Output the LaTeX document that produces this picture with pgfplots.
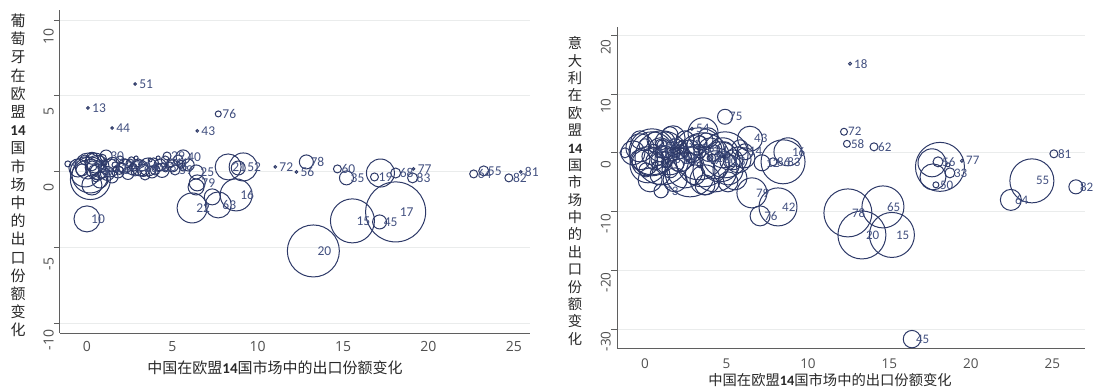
\documentclass[border=0pt]{standalone}
\usepackage{fontspec}
\usepackage{pgfplots}
\usepackage{pgfplotstable}
\pgfplotsset{compat=1.18}
\setmainfont{Open Sans}
\newfontfamily\cjk{Noto Sans CJK SC}
\newfontfamily\carl{Carlito}
\definecolor{navy}{RGB}{45,57,104}
\definecolor{labc}{RGB}{66,80,128}
\definecolor{axc}{RGB}{95,95,95}
\definecolor{tickc}{RGB}{80,80,80}
\definecolor{gridc}{RGB}{234,236,236}
\definecolor{titc}{RGB}{40,40,40}

\pgfplotstableread{
x y r lab
2.82 5.79 1.3 51
0.06 4.21 1.3 13
1.47 2.89 1.3 44
7.69 3.82 3 76
6.46 2.70 1.3 43
11.03 0.33 1.3 72
12.27 0.0 1.3 56
12.85 0.66 7 78
14.67 0.20 4 60
15.20 -0.39 7 35
16.84 -0.33 4 19
18.08 -0.07 5 68
19.13 0.20 1.3 77
19.07 -0.39 5 83
22.65 -0.13 4 64
23.24 0.07 5 55
24.71 -0.39 4 82
25.41 0.0 1.3 81
18.08 -2.63 30 17
17.14 -3.29 7 45
15.55 -3.22 22 15
13.26 -5.20 26 20
8.74 -1.51 16 16
6.16 -2.37 15 22
7.69 -2.17 13 63
6.46 -0.72 8 79
6.40 0.0 7 25
5.63 0.99 7 40
8.27 0.33 13 21
9.15 0.33 14 52
0.0 -3.09 13 10
-1.12 0.53 3 4
1.12 1.05 6 30
4.69 1.05 4 29
0.65 0 8 8
2.23 0.39 7 37
3.11 0.26 8 26
3.58 0.33 9 49
5.16 0.13 5 59
1.35 0.26 9 11
0.3 0.4 5 1
1.9 0.1 4 5
2.7 0.3 4 28
4.2 0.3 4 23
4.9 0.6 4 41
0.9 -0.1 5 9
}\leftlab

\pgfplotstableread{
x y r
17.19 -0.07 14
7.34 -1.64 8
8.86 0.26 7
6.39 -0.99 8
0.18 -0.20 18
0.06 0.39 13
0.47 0.59 10
-0.29 0.13 6
1.82 0 6
2.64 0.13 5
3.99 0.13 5
4.28 0.46 6
4.58 0.79 4
5.34 0.79 5
5.93 0.46 6
0.76 -0.53 8
1.47 -0.33 6
-0.12 0.79 5
2.52 0.59 4
3.40 -0.20 5
1.94 0.79 4
-0.53 0.26 9
0.29 -0.86 10
3.70 0.79 2
2.88 0.92 2
4.17 0.92 2
2.23 0.66 3
0.88 0.26 4
0.41 0.13 5
2.82 0 4
4.87 0.46 3
3.81 0 6
1.64 0.46 3
0.53 -0.39 4
5.63 0.26 3
4.0 0.3 3
3.2 0.5 3
1.0 0.6 3
0.2 -0.5 20
-0.1 0.0 15
0.6 0.3 12
1.5 0.5 7
2.0 0.3 5
2.4 -0.1 6
3.0 0.6 4
3.3 0.1 6
3.9 0.6 5
4.4 0.1 7
5.0 0.4 6
5.5 0.5 4
1.2 -0.1 7
0.3 0.9 6
0.9 0.9 4
2.6 0.8 3
4.6 0.2 3
1.7 0.2 3
}\leftunl

\pgfplotstableread{
x y r lab
12.58 15.16 1.5 18
12.21 3.58 3.5 72
12.39 1.53 3.5 58
14.05 1.02 4 62
25.09 -0.17 4 81
26.44 -5.79 7 82
23.74 -4.77 22 55
22.45 -8.01 10.5 64
17.85 -5.45 3 50
19.45 -1.36 1.5 77
17.98 -1.53 5 56
18.71 -3.41 5 33
12.45 -10.22 24 78
14.60 -9.20 21 65
13.31 -13.97 24 20
15.15 -13.97 22.5 15
16.38 -31.69 8.7 45
8.16 -9.20 19 42
7.06 -10.73 10 76
6.56 -6.81 15 79
8.47 -1.53 22 83
8.77 0.17 14 16
7.18 -1.70 8 12
7.85 -1.53 4 86
6.44 2.40 12.5 43
4.91 6.13 7.5 75
0.98 -6.47 7 73
2.88 4.09 1.5 54
5.09 -1.53 8 13
6.13 0.17 8 14
1.53 -1.19 15 39
3.56 -1.19 27 49
2.15 -1.19 12 26
0.43 -0.17 22 11
4.60 -1.53 20 40
3.99 0.51 12 24
0.5 0.8 4 1
1.2 -0.5 4 5
1.9 0.3 4 7
2.6 -0.6 4 9
3.2 0.8 4 23
4.1 -0.9 4 27
0.9 1.6 4 28
2.3 1.5 4 31
}\rightlab

\pgfplotstableread{
x y r
18.10 -2.39 24.5
17.61 -1.70 14
17.67 -4.09 13
18.59 -2.04 2
-1.23 0.0 5
-0.74 0 12
3.56 3.41 15
0.18 -2.04 18
-0.31 0.85 14
0.92 0.51 12
1.23 1.87 10
0.61 2.21 8
0.0 1.36 6
1.84 0.85 9
2.45 -2.90 18
2.76 0.51 10
3.19 1.36 10
3.87 2.56 10
4.29 -2.04 14
5.09 -2.90 15
5.40 -1.19 10
5.83 0.85 8
6.13 -0.85 10
1.72 2.56 12
0.92 -3.75 10
0.31 -4.60 12
3.07 -3.75 10
3.68 -4.60 15
5.52 -4.26 12
1.04 1.36 5
2.76 -0.85 5
3.37 0.17 6
4.29 0.51 5
2.15 0.17 7
4.91 0.51 8
0.74 -1.19 6
1.53 -2.90 8
-0.31 -1.19 10
0.06 -2.90 7
0.92 -0.34 3
1.41 0.51 3
1.84 -0.68 3
2.45 -0.34 3
2.88 -1.53 3
3.37 -2.04 3
3.99 -0.85 3
4.60 -0.34 3
0.61 -2.04 3
1.23 -2.04 3
0.43 0.17 23
1.04 -0.85 27
3.31 -0.17 26
4.91 -0.34 23
4.29 -2.90 22
2.76 -3.24 25
0 -1.70 13
4.79 0 15
5.71 -1.19 13
3.37 1.70 7
3.74 2.21 7
2.45 2.21 9
1.53 3.07 8
-0.31 2.21 9
1.84 -4.60 12
3.68 -5.45 10
5.09 -4.94 10
0.3 -0.6 8
1.0 0.2 6
1.7 -0.2 7
2.2 0.9 6
2.9 -0.3 8
0.6 -1.4 9
1.3 -1.6 5
2.0 -2.1 6
}\rightunl

\pgfplotsset{
  stata/.style={
    scale only axis, clip=false,
    axis lines=left, axis line style={-, draw=axc, line width=1pt},
    ymajorgrids, grid style={draw=gridc, line width=1pt},
    tick align=outside, major tick length=6pt,
    ytick style={draw=axc, line width=1pt},
    xtick style={draw=none},
    /pgf/number format/assume math mode=true,
    yticklabel style={rotate=90, anchor=south, inner sep=0pt, text=tickc},
    xticklabel style={anchor=north, inner sep=0pt, text=tickc},
  },
  bubl/.style={scatter, only marks, mark=o, line width=1pt,
    scatter/use mapped color={draw=navy},
    point meta=\thisrow{r},
    visualization depends on={\thisrow{r}\as\rad},
    scatter/@pre marker code/.append style={/tikz/mark size=\rad},
  },
  lbl/.style={only marks, mark=none,
    point meta=explicit symbolic,
    nodes near coords,
    nodes near coords align={anchor=west},
    every node near coord/.append style={font=\carl\fontsize{#1}{#1}\selectfont, text=labc, inner sep=0pt, xshift=4pt},
  },
}

\begin{document}
\begin{tikzpicture}
\useasboundingbox (0,0) rectangle (1093pt,389pt);
% left chart
\begin{axis}[stata, at={(60pt,56pt)}, anchor=south west, width=470pt, height=323pt,
  xmin=-1.58, xmax=25.95, ymin=-10.6, ymax=10.66,
  xtick={0,5,10,15,20,25}, ytick={-10,-5,0,5,10},
  ticklabel style={font=\fontsize{14}{14}\selectfont},
  yticklabel style={xshift=-16pt}, xticklabel style={yshift=-2pt}]
\addplot[bubl] table[x=x,y=y] {\leftunl};
\addplot[bubl] table[x=x,y=y] {\leftlab};
\addplot[lbl=13.5] table[x=x,y=y,meta=lab] {\leftlab};
\end{axis}
% right chart
\begin{axis}[stata, at={(617pt,41pt)}, anchor=south west, width=468pt, height=321pt,
  xmin=-1.72, xmax=27.0, ymin=-33.2, ymax=21.4,
  xtick={0,5,10,15,20,25}, ytick={-30,-20,-10,0,10,20},
  ticklabel style={font=\fontsize{13.5}{13.5}\selectfont},
  yticklabel style={xshift=-12pt}, xticklabel style={yshift=-5pt}]
\addplot[bubl] table[x=x,y=y] {\rightunl};
\addplot[bubl] table[x=x,y=y] {\rightlab};
\addplot[lbl=13] table[x=x,y=y,meta=lab] {\rightlab};
\end{axis}
% titles
\node[align=center, font=\cjk\fontsize{15}{18.2}\selectfont, text=titc, inner sep=0pt] at (18pt,213.5pt)
 {葡\\萄\\牙\\在\\欧\\盟\\{\carl\bfseries 14}\\国\\市\\场\\中\\的\\出\\口\\份\\额\\变\\化};
\node[align=center, font=\cjk\fontsize{14.3}{17.4}\selectfont, text=titc, inner sep=0pt] at (575pt,198pt)
 {意\\大\\利\\在\\欧\\盟\\{\carl\bfseries 14}\\国\\市\\场\\中\\的\\出\\口\\份\\额\\变\\化};
\node[font=\cjk\fontsize{15}{15}\selectfont, text=titc, inner sep=0pt] at (275pt,21pt)
 {中国在欧盟{\carl\bfseries 14}国市场中的出口份额变化};
\node[font=\cjk\fontsize{14.3}{14.3}\selectfont, text=titc, inner sep=0pt] at (830pt,9pt)
 {中国在欧盟{\carl\bfseries 14}国市场中的出口份额变化};
\end{tikzpicture}
\end{document}
